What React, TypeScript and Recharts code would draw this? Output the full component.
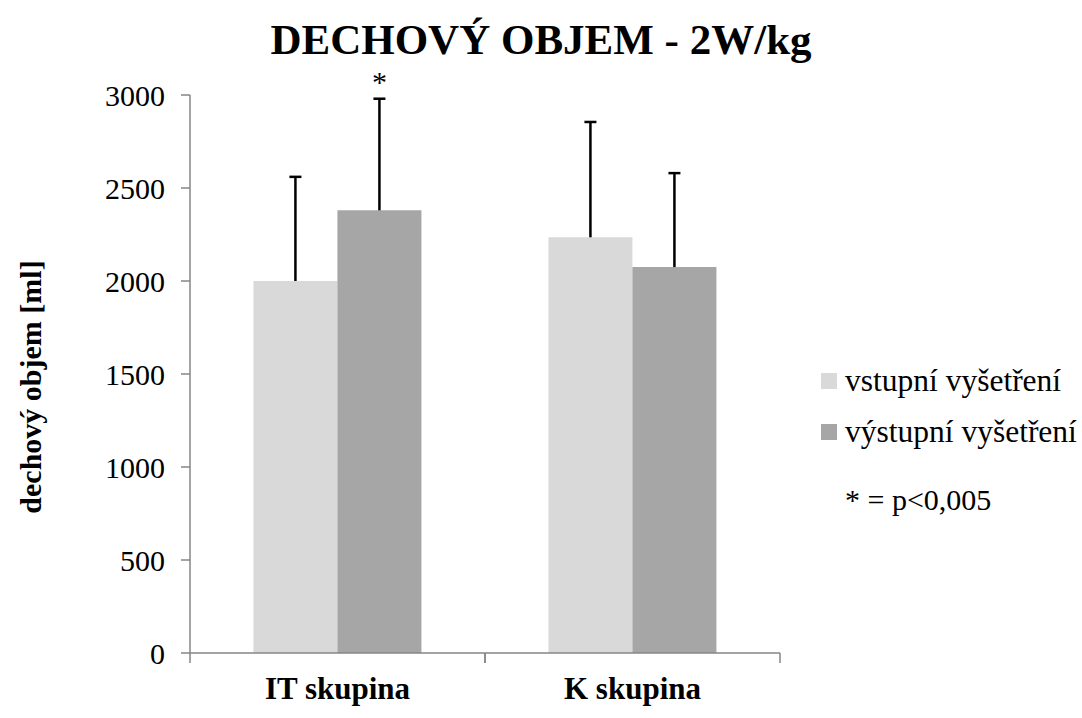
import React from 'react';
import { BarChart, Bar, XAxis, YAxis, ErrorBar, Legend } from 'recharts';

const groups = ['IT skupina', 'K skupina'];
const vstupni = [2000, 2235];
const vystupni = [2380, 2075];
const vstupniSd = [560, 620];
const vystupniSd = [600, 505];
const vystupniMarks = ['*', ''];
const yTicks = [0, 500, 1000, 1500, 2000, 2500, 3000];

const data = groups.map((g, i) => ({
  group: g,
  vstupni: vstupni[i],
  vystupni: vystupni[i],
  // upward-only whiskers
  vstupniErr: [0, vstupniSd[i]],
  vystupniErr: [0, vystupniSd[i]],
}));

const FONT = '"Liberation Serif", "Times New Roman", serif';
const AXIS_GRAY = '#868686';
const LIGHT = '#d9d9d9';
const DARK = '#a6a6a6';

const X_TICK_SIZE = 10;
const X_TICK_MARGIN = 14;

// category label plus the boundary tick marks on both sides of the band
const CategoryTick = (props: any) => {
  const { x, y, payload } = props;
  const half = payload.offset ?? 0;
  const axisY = y - X_TICK_SIZE - X_TICK_MARGIN;
  return (
    <g>
      <line x1={x - half} y1={axisY} x2={x - half} y2={axisY + X_TICK_SIZE} stroke={AXIS_GRAY} strokeWidth={1.5} />
      <line x1={x + half} y1={axisY} x2={x + half} y2={axisY + X_TICK_SIZE} stroke={AXIS_GRAY} strokeWidth={1.5} />
      <text x={x} y={y + 22} textAnchor="middle" fill="#000" fontFamily={FONT} fontSize={31} fontWeight="bold">
        {payload.value}
      </text>
    </g>
  );
};

const renderYLabel = (props: any) => {
  const { viewBox } = props;
  const cx = viewBox.x - 60;
  const cy = viewBox.y + viewBox.height / 2 + 13;
  return (
    <text
      x={cx}
      y={cy}
      transform={`rotate(-90, ${cx}, ${cy})`}
      textAnchor="middle"
      dominantBaseline="central"
      fill="#000"
      fontFamily={FONT}
      fontSize={30}
      fontWeight="bold"
    >
      dechový objem [ml]
    </text>
  );
};

// significance star sitting above the top of the whisker
const renderMark = (props: any) => {
  const { x, y, width, height, value, index } = props;
  const mark = vystupniMarks[index];
  if (!mark || !value) return null;
  const pxPerUnit = height / value;
  const top = y - vystupniSd[index] * pxPerUnit;
  return (
    <text x={x + width / 2} y={top - 7} textAnchor="middle" fill="#000" fontFamily={FONT} fontSize={30}>
      {mark}
    </text>
  );
};

const renderLegend = (props: any) => {
  const { payload } = props;
  return (
    <div style={{ fontFamily: FONT, fontSize: 31.5, color: '#000' }}>
      {payload.map((entry: any) => (
        <div key={entry.value} style={{ display: 'flex', alignItems: 'center', height: 51, whiteSpace: 'nowrap' }}>
          <span style={{ display: 'inline-block', width: 16, height: 16, background: entry.color, marginRight: 8 }} />
          {entry.value}
        </div>
      ))}
      <div
        style={{
          display: 'flex',
          alignItems: 'center',
          height: 51,
          marginTop: 17,
          paddingLeft: 24,
          fontSize: 30,
          whiteSpace: 'nowrap',
        }}
      >
        * = p&lt;0,005
      </div>
    </div>
  );
};

export default function App() {
  return (
    <div style={{ position: 'relative', width: 1082, height: 718, background: '#fff' }}>
      <style>{`body{margin:0} .recharts-errorBar line:nth-of-type(3){display:none}`}</style>
      <div
        style={{
          position: 'absolute',
          top: 16,
          left: 0,
          width: 1082,
          textAlign: 'center',
          fontFamily: FONT,
          fontSize: 43,
          fontWeight: 'bold',
          lineHeight: '48px',
          color: '#000',
        }}
      >
        DECHOVÝ OBJEM - 2W/kg
      </div>
      <BarChart
        width={1082}
        height={718}
        data={data}
        margin={{ top: 95, right: 302, bottom: 0, left: 90 }}
        barCategoryGap="21.5%"
        barGap={0}
      >
        <XAxis
          dataKey="group"
          height={65}
          stroke={AXIS_GRAY}
          strokeWidth={1.5}
          tickLine={false}
          tickSize={X_TICK_SIZE}
          tickMargin={X_TICK_MARGIN}
          tick={<CategoryTick />}
        />
        <YAxis
          domain={[0, 3000]}
          ticks={yTicks}
          width={100}
          stroke={AXIS_GRAY}
          strokeWidth={1.5}
          tickSize={9}
          tickMargin={16}
          tick={{ fill: '#000', fontSize: 30, fontFamily: FONT }}
          label={renderYLabel}
        />
        <Legend
          layout="horizontal"
          verticalAlign="middle"
          align="center"
          wrapperStyle={{ left: 821, top: 355, width: 261 }}
          content={renderLegend}
        />
        <Bar dataKey="vstupni" name="vstupní vyšetření" fill={LIGHT} isAnimationActive={false}>
          <ErrorBar dataKey="vstupniErr" width={6} strokeWidth={2.5} stroke="#000" isAnimationActive={false} />
        </Bar>
        <Bar dataKey="vystupni" name="výstupní vyšetření" fill={DARK} isAnimationActive={false} label={renderMark}>
          <ErrorBar dataKey="vystupniErr" width={6} strokeWidth={2.5} stroke="#000" isAnimationActive={false} />
        </Bar>
      </BarChart>
    </div>
  );
}
